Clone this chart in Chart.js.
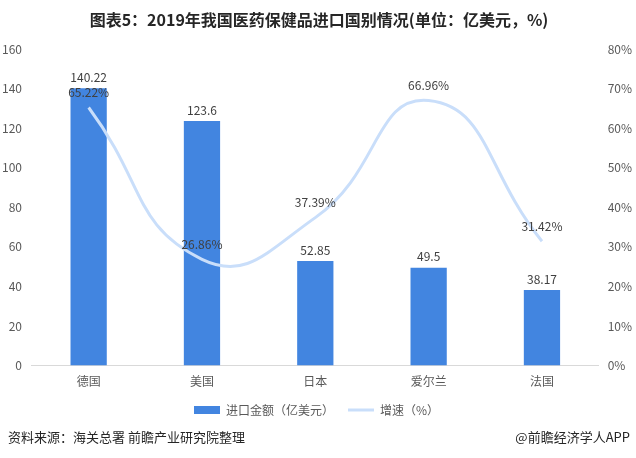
<!DOCTYPE html>
<html>
<head>
<meta charset="utf-8">
<script src="https://cdn.jsdelivr.net/npm/chart.js@4/dist/chart.umd.min.js"></script>
<style>
  body { margin: 0; background: #fff; }
  #wrap { position: relative; width: 636px; height: 458px; }
</style>
</head>
<body>
<div id="wrap"><canvas id="chart" width="636" height="458"></canvas></div>
<script>
// data
const countries = ['德国', '美国', '日本', '爱尔兰', '法国'];
const importValue = [140.22, 123.6, 52.85, 49.5, 38.17];
const growthRate = [65.22, 26.86, 37.39, 66.96, 31.42];
const valueLabels = ['140.22', '123.6', '52.85', '49.5', '38.17'];
const rateLabels = ['65.22%', '26.86%', '37.39%', '66.96%', '31.42%'];

const FONT = '"Noto Sans CJK SC", "Noto Sans", sans-serif';
const GREY = '#595959';

// title, footer and value labels
const extras = {
    id: 'extras',
    afterDatasetsDraw(chart) {
        const ctx = chart.ctx;
        ctx.save();
        ctx.fillStyle = '#404040';
        ctx.textAlign = 'center';
        ctx.textBaseline = 'middle';
        ctx.font = '12px ' + FONT;

        const barMeta = chart.getDatasetMeta(0);
        barMeta.data.forEach((bar, i) => {
            ctx.fillText(valueLabels[i], bar.x, bar.y - 11);
        });
        const lineMeta = chart.getDatasetMeta(1);
        lineMeta.data.forEach((pt, i) => {
            ctx.fillText(rateLabels[i], pt.x, pt.y - 15);
        });

        ctx.fillStyle = '#262626';
        ctx.font = 'bold 16px ' + FONT;
        ctx.fillText('图表5：2019年我国医药保健品进口国别情况(单位：亿美元，%)', 319, 20);

        ctx.font = '13px ' + FONT;
        ctx.fillStyle = '#262626';
        ctx.textAlign = 'left';
        ctx.fillText('资料来源：海关总署 前瞻产业研究院整理', 8, 437);
        ctx.textAlign = 'right';
        ctx.fillText('@前瞻经济学人APP', 630, 437);
        ctx.restore();
    }
};

new Chart(document.getElementById('chart'), {
    data: {
        labels: countries,
        datasets: [{
            type: 'bar',
            label: '进口金额（亿美元）',
            data: importValue,
            backgroundColor: '#4285e0',
            categoryPercentage: 1,
            barPercentage: 0.32,
            yAxisID: 'y',
            order: 2
        }, {
            type: 'line',
            label: '增速（%）',
            data: growthRate,
            borderColor: '#c9defa',
            backgroundColor: '#c9defa',
            borderWidth: 3,
            pointRadius: 0,
            tension: 0.5,
            yAxisID: 'y1',
            order: 1
        }]
    },
    options: {
        responsive: false,
        animation: false,
        layout: { padding: { top: 49, left: -8, right: -5, bottom: 32 } },
        plugins: {
            title: { display: false },
            tooltip: { enabled: false },
            legend: {
                position: 'bottom',
                labels: {
                    usePointStyle: true,
                    pointStyleWidth: 26,
                    boxHeight: 8,
                    padding: 14,
                    color: GREY,
                    font: { size: 12, family: FONT },
                    generateLabels(chart) {
                        return chart.data.datasets.map((ds, i) => ({
                            text: ds.label,
                            fillStyle: ds.backgroundColor,
                            strokeStyle: ds.type === 'line' ? ds.borderColor : ds.backgroundColor,
                            lineWidth: ds.type === 'line' ? 3 : 0,
                            pointStyle: ds.type === 'line' ? 'line' : 'rect',
                            fontColor: GREY,
                            datasetIndex: i
                        }));
                    }
                }
            }
        },
        scales: {
            x: {
                grid: { display: false },
                border: { color: '#d9d9d9' },
                ticks: { color: GREY, font: { size: 12, family: FONT }, padding: 1 }
            },
            y: {
                position: 'left',
                min: 0, max: 160,
                ticks: { stepSize: 20, color: GREY, font: { size: 12, family: FONT }, padding: 10 },
                grid: { display: false, drawTicks: false },
                border: { display: false }
            },
            y1: {
                position: 'right',
                min: 0, max: 80,
                ticks: { stepSize: 10, color: GREY, font: { size: 12, family: FONT }, padding: 9,
                    callback: v => v + '%' },
                grid: { display: false, drawTicks: false },
                border: { display: false }
            }
        }
    },
    plugins: [extras]
});
</script>
</body>
</html>
